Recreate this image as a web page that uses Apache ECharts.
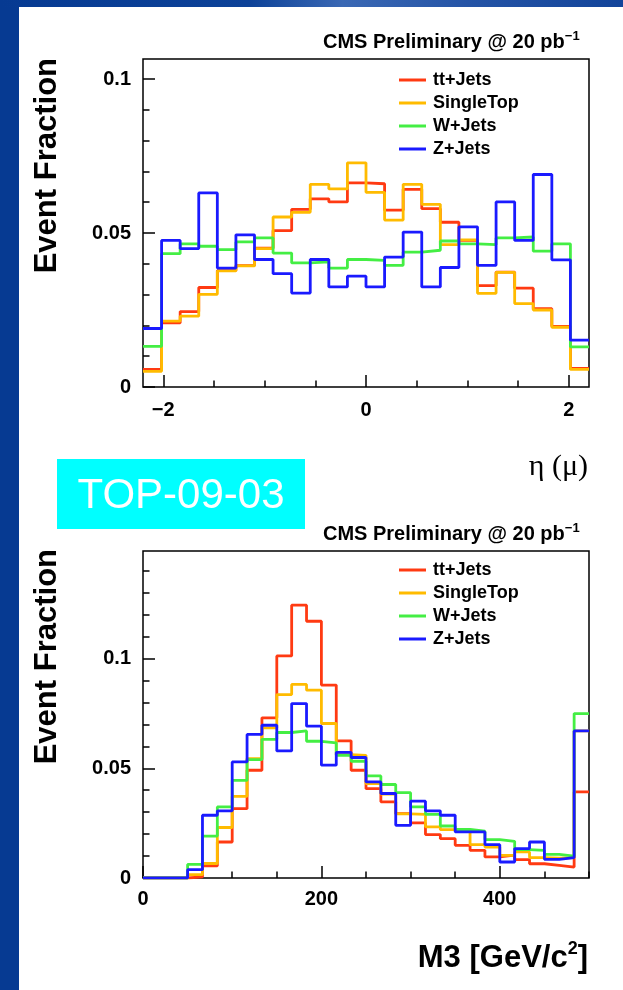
<!DOCTYPE html>
<html>
<head>
<meta charset="utf-8">
<script src="https://cdn.jsdelivr.net/npm/echarts@6/dist/echarts.min.js"></script>
<style>
  html, body { margin: 0; padding: 0; background: #fff; }
  #chart { width: 623px; height: 990px; }
</style>
</head>
<body>
<div id="chart"></div>
<script>
// histogram names / colours
const names = ['tt+Jets', 'SingleTop', 'W+Jets', 'Z+Jets']
const colors = ['#ff3a12', '#ffbb00', '#44ee44', '#1a1aff']

// eta(mu): 24 bins from -2.2 to 2.2
const etaRange = [-2.2, 2.2]
const etaTT = [0.0057, 0.0208, 0.0245, 0.0323, 0.0378, 0.0394, 0.0451, 0.0508, 0.0577, 0.0611, 0.0601, 0.0663,
  0.0660, 0.0574, 0.0642, 0.0579, 0.0535, 0.0476, 0.0329, 0.0373, 0.0321, 0.0254, 0.0197, 0.0060]
const etaST = [0.0051, 0.0214, 0.0230, 0.0301, 0.0377, 0.0393, 0.0449, 0.0552, 0.0567, 0.0658, 0.0643, 0.0728,
  0.0632, 0.0542, 0.0658, 0.0593, 0.0462, 0.0478, 0.0304, 0.0372, 0.0271, 0.0250, 0.0194, 0.0057]
const etaW = [0.0132, 0.0433, 0.0465, 0.0457, 0.0446, 0.0471, 0.0484, 0.0435, 0.0403, 0.0406, 0.0386, 0.0414,
  0.0411, 0.0395, 0.0438, 0.0444, 0.0474, 0.0465, 0.0462, 0.0484, 0.0487, 0.0441, 0.0465, 0.0130]
const etaZ = [0.0190, 0.0476, 0.0449, 0.0630, 0.0386, 0.0494, 0.0414, 0.0368, 0.0305, 0.0414, 0.0325, 0.0360,
  0.0325, 0.0422, 0.0503, 0.0325, 0.0388, 0.0520, 0.0395, 0.0601, 0.0476, 0.0690, 0.0413, 0.0152]

// M3: 30 bins from 0 to 500
const m3Range = [0, 500]
const m3TT = [0, 0, 0, 0.0005, 0.0055, 0.0164, 0.0316, 0.0491, 0.0730, 0.1012, 0.1243, 0.1170, 0.0879, 0.0625, 0.0491,
  0.0407, 0.0347, 0.0293, 0.0251, 0.0198, 0.0179, 0.0149, 0.0126, 0.0096, 0.0104, 0.0084, 0.0065, 0.0058, 0.0050, 0.0392]
const m3ST = [0, 0, 0, 0.0015, 0.0066, 0.0230, 0.0372, 0.0544, 0.0684, 0.0836, 0.0882, 0.0856, 0.0704, 0.0562, 0.0559,
  0.0430, 0.0382, 0.0292, 0.0290, 0.0233, 0.0220, 0.0214, 0.0152, 0.0141, 0.0103, 0.0119, 0.0093, 0.0090, 0.0093, 0.0670]
const m3W = [0, 0, 0, 0.0062, 0.0191, 0.0324, 0.0445, 0.0539, 0.0632, 0.0663, 0.0670, 0.0623, 0.0616, 0.0559, 0.0532,
  0.0465, 0.0426, 0.0389, 0.0324, 0.0290, 0.0237, 0.0221, 0.0213, 0.0175, 0.0167, 0.0129, 0.0126, 0.0108, 0.0100, 0.0749]
const m3Z = [0, 0, 0, 0.0038, 0.0286, 0.0306, 0.0529, 0.0654, 0.0696, 0.0579, 0.0795, 0.0692, 0.0514, 0.0572, 0.0549,
  0.0438, 0.0385, 0.0240, 0.0350, 0.0306, 0.0286, 0.0210, 0.0210, 0.0152, 0.0073, 0.0134, 0.0164, 0.0085, 0.0093, 0.0670]

// tick values
const etaMajor = [-2, 0, 2]
const etaMinor = [-2, -1.5, -1, -0.5, 0, 0.5, 1, 1.5, 2]
const fracMajor = [0, 0.05, 0.1]
const fracMinor1 = [0, 0.01, 0.02, 0.03, 0.04, 0.05, 0.06, 0.07, 0.08, 0.09, 0.1]
const fracMinor2 = [0, 0.01, 0.02, 0.03, 0.04, 0.05, 0.06, 0.07, 0.08, 0.09, 0.1, 0.11, 0.12, 0.13, 0.14]
const m3Major = [0, 200, 400]
const m3Minor = [0, 50, 100, 150, 200, 250, 300, 350, 400, 450, 500]

const FONT = '"Liberation Sans", Arial, sans-serif'
const labelStyle = { color: '#000', fontFamily: FONT, fontWeight: 'bold', fontSize: 20 }
const tickLine = { color: '#000', width: 1.5 }
const noLine = { show: false, onZero: false }

// bin contents -> points for a step line (lower edges + closing point)
function steps(range, vals) {
  const w = (range[1] - range[0]) / vals.length
  const pts = vals.map((v, i) => [range[0] + i * w, v])
  pts.push([range[1], vals[vals.length - 1]])
  return pts
}

function fmt(v) {
  return v < 0 ? '\u2212' + Math.abs(v) : String(v)
}

function xAxes(grid, range, major, minor, margin) {
  return [{
    type: 'value', gridIndex: grid, min: range[0], max: range[1], position: 'bottom',
    axisLine: noLine, splitLine: { show: false },
    axisTick: { inside: true, length: 12, customValues: major, lineStyle: tickLine },
    axisLabel: { customValues: major, formatter: fmt, margin: margin, ...labelStyle }
  }, {
    type: 'value', gridIndex: grid, min: range[0], max: range[1], position: 'bottom',
    axisLine: noLine, splitLine: { show: false },
    axisTick: { inside: true, length: 6.5, customValues: minor, lineStyle: tickLine },
    axisLabel: { show: false }
  }]
}

function yAxes(grid, max, minor) {
  return [{
    type: 'value', gridIndex: grid, min: 0, max: max, position: 'left',
    axisLine: noLine, splitLine: { show: false },
    axisTick: { inside: true, length: 12, customValues: fracMajor, lineStyle: tickLine },
    axisLabel: { customValues: fracMajor, formatter: fmt, margin: 12, ...labelStyle }
  }, {
    type: 'value', gridIndex: grid, min: 0, max: max, position: 'left',
    axisLine: noLine, splitLine: { show: false },
    axisTick: { inside: true, length: 6.5, customValues: minor, lineStyle: tickLine },
    axisLabel: { show: false }
  }]
}

function histSeries(axisIdx, range, sets) {
  return sets.map((vals, i) => ({
    name: names[i],
    type: 'line',
    step: 'end',
    xAxisIndex: axisIdx,
    yAxisIndex: axisIdx,
    symbol: 'none',
    color: colors[i],
    lineStyle: { color: colors[i], width: 2.8 },
    data: steps(range, vals)
  }))
}

function legend(top) {
  return {
    orient: 'vertical', left: 394, top: top, icon: 'rect',
    itemWidth: 27, itemHeight: 3, itemGap: 3,
    textStyle: { color: '#000', fontFamily: FONT, fontWeight: 'bold', fontSize: 18, lineHeight: 20, padding: [0, 0, 0, 2] },
    data: names
  }
}

function titleText(y) {
  return {
    type: 'text', left: 323, top: y, z: 10,
    style: {
      text: '{a|CMS Preliminary @ 20 pb}{s|\u22121}',
      rich: {
        a: { fontFamily: FONT, fontWeight: 'bold', fontSize: 20, lineHeight: 24, fill: '#000' },
        s: { fontFamily: FONT, fontWeight: 'bold', fontSize: 13, lineHeight: 24, verticalAlign: 'top', fill: '#000' }
      }
    }
  }
}

function yTitle(y) {
  return {
    type: 'text', x: 47, y: y, rotation: Math.PI / 2, z: 10,
    style: { text: 'Event Fraction', font: 'bold 31px ' + FONT, fill: '#000', textAlign: 'right', textVerticalAlign: 'middle' }
  }
}

const chart = echarts.init(document.getElementById('chart'), null, { renderer: 'canvas' })

chart.setOption({
  animation: false,
  backgroundColor: '#fff',
  grid: [
    { left: 143, top: 59, width: 446, height: 328, show: true, borderColor: '#000', borderWidth: 1.5, backgroundColor: 'transparent' },
    { left: 143, top: 551, width: 446, height: 327, show: true, borderColor: '#000', borderWidth: 1.5, backgroundColor: 'transparent' }
  ],
  xAxis: [...xAxes(0, etaRange, etaMajor, etaMinor, 13), ...xAxes(1, m3Range, m3Major, m3Minor, 11)],
  yAxis: [...yAxes(0, 0.1065, fracMinor1), ...yAxes(1, 0.149, fracMinor2)],
  legend: [legend(65), legend(555)],
  series: [
    ...histSeries(0, etaRange, [etaTT, etaST, etaW, etaZ]),
    ...histSeries(2, m3Range, [m3TT, m3ST, m3W, m3Z])
  ],
  graphic: [
    // blue slide frame
    { type: 'rect', shape: { x: 0, y: 0, width: 19, height: 990 }, style: { fill: '#063a92' }, z: 0 },
    {
      type: 'rect', shape: { x: 0, y: 0, width: 623, height: 7 }, z: 0,
      style: {
        fill: new echarts.graphic.LinearGradient(0, 0, 1, 0, [
          { offset: 0, color: '#063a92' },
          { offset: 0.4, color: '#0d4298' },
          { offset: 0.55, color: '#3a68b4' },
          { offset: 0.75, color: '#2554a6' },
          { offset: 1, color: '#12449a' }
        ])
      }
    },
    titleText(30),
    titleText(522),
    yTitle(58),
    yTitle(549),
    {
      type: 'text', x: 588, y: 467, z: 10,
      style: { text: '\u03b7 (\u03bc)', font: '30px "Liberation Serif", "DejaVu Serif", serif', fill: '#000', textAlign: 'right', textVerticalAlign: 'middle' }
    },
    {
      type: 'text', x: 588, y: 958, z: 10,
      style: {
        text: '{a|M3 [GeV/c}{s|2}{a|]}',
        textAlign: 'right', textVerticalAlign: 'middle',
        rich: {
          a: { fontFamily: FONT, fontWeight: 'bold', fontSize: 31, lineHeight: 36, fill: '#000' },
          s: { fontFamily: FONT, fontWeight: 'bold', fontSize: 18, lineHeight: 36, verticalAlign: 'top', fill: '#000' }
        }
      }
    },
    // TOP-09-03 tag
    { type: 'rect', shape: { x: 57, y: 459, width: 248, height: 70 }, style: { fill: '#00ffff' }, z: 5 },
    {
      type: 'text', x: 181, y: 496, z: 6,
      style: { text: 'TOP-09-03', font: '42px ' + FONT, fill: '#fff', textAlign: 'center', textVerticalAlign: 'middle' }
    }
  ]
})
</script>
</body>
</html>
